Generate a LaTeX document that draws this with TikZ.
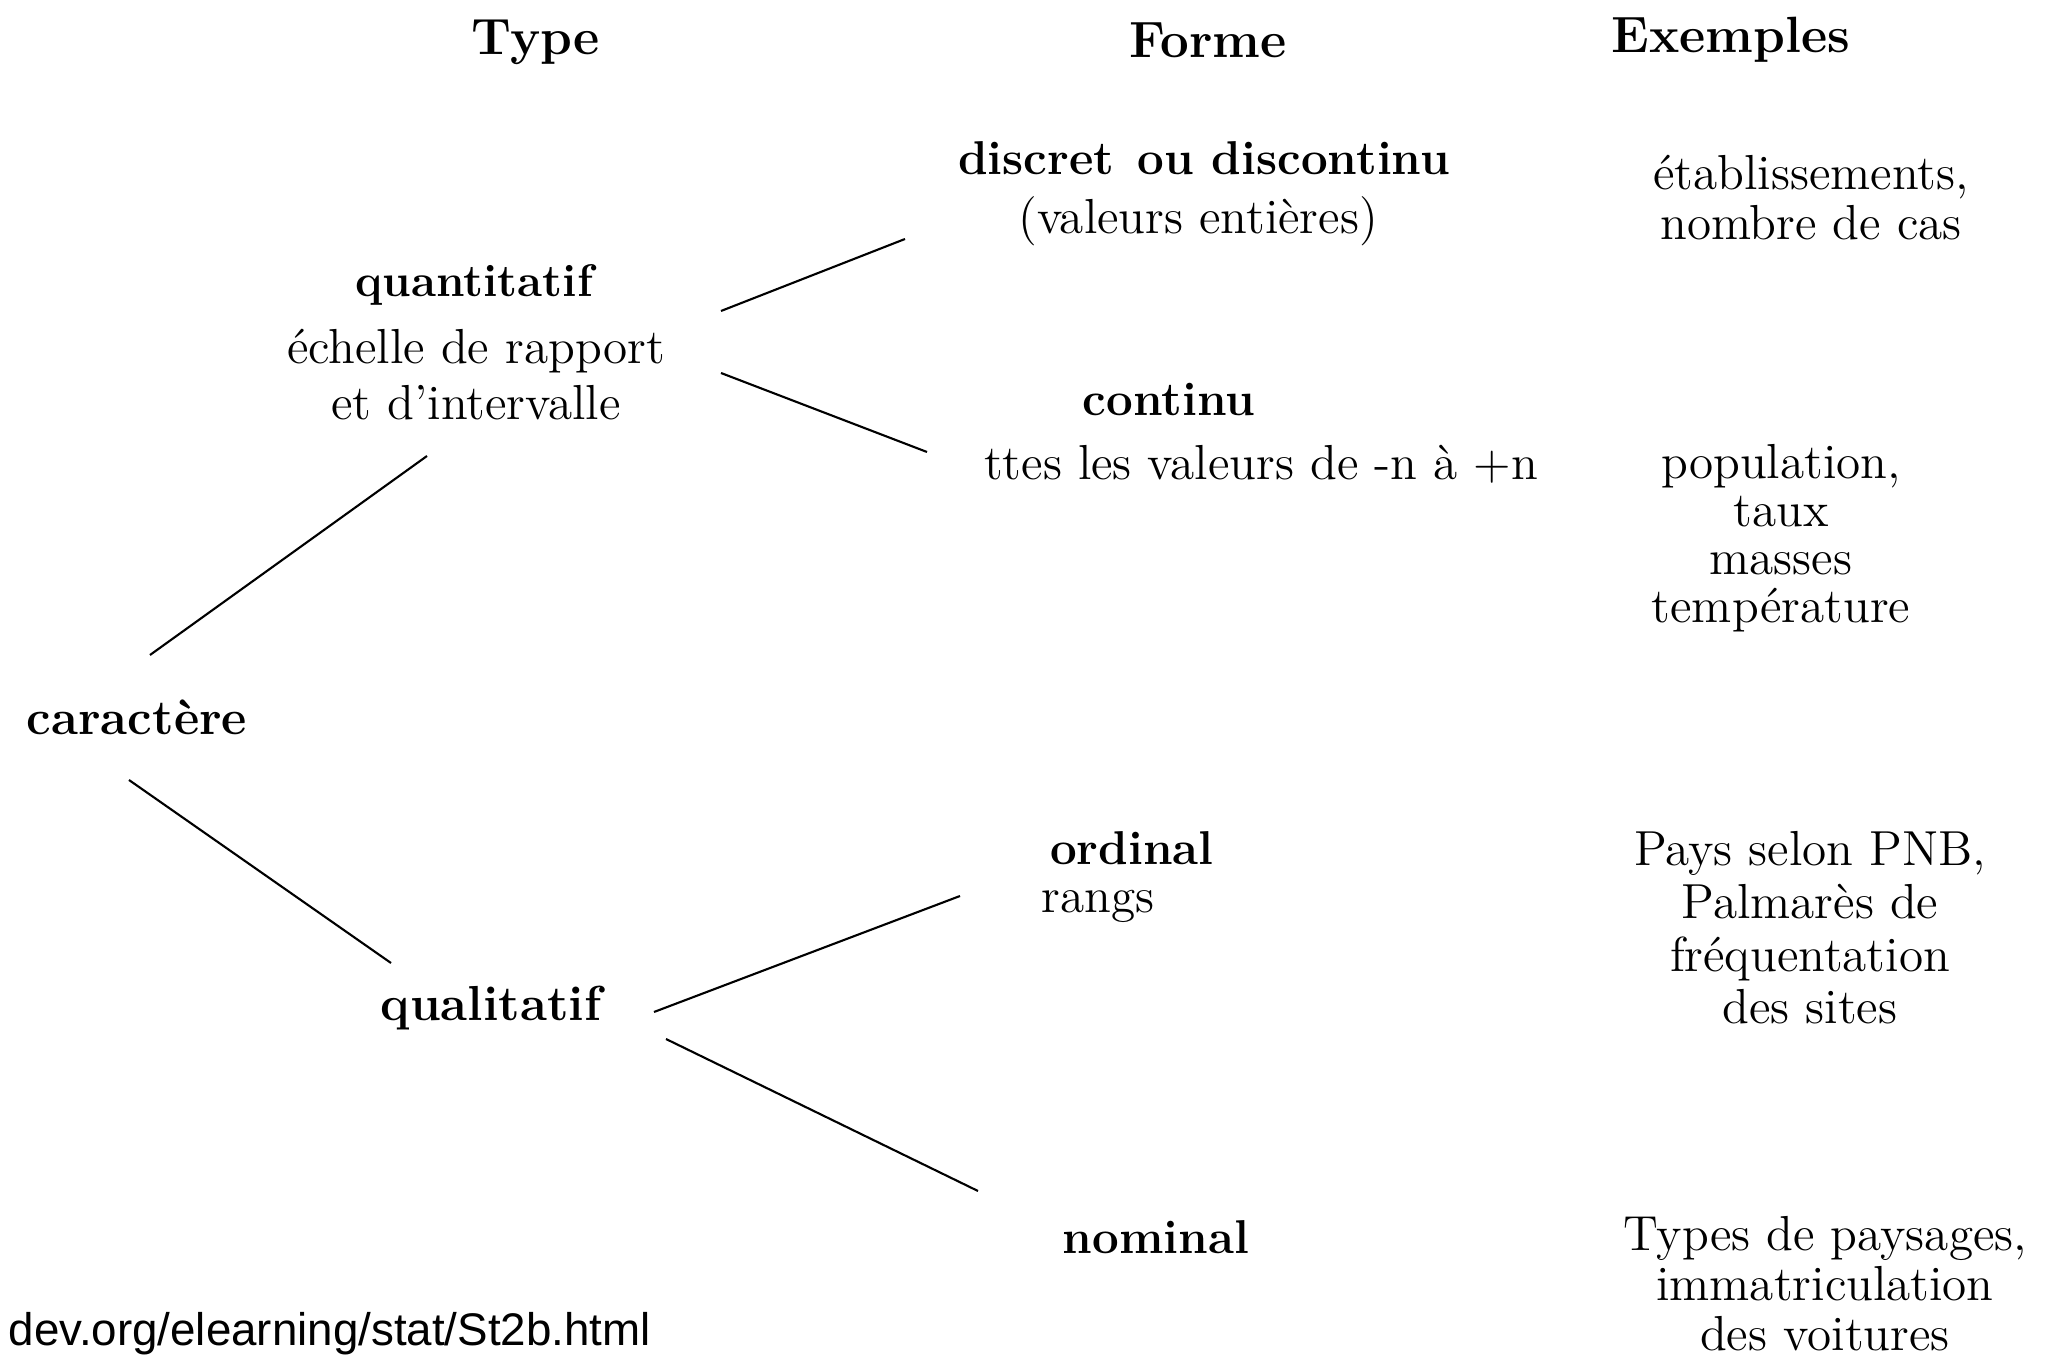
\documentclass[tikz,border=0pt]{standalone}
\usepackage{fontspec}
\newfontfamily\urlfont{Liberation Sans}
\usepackage{tikz}
\usetikzlibrary{positioning}

\begin{document}
\begin{tikzpicture}[
  x=0.01cm, y=-0.01cm,
  hdr/.style={font=\fontsize{14.5}{17}\selectfont\bfseries, inner sep=0pt},
  titre/.style={font=\fontsize{13.5}{16}\selectfont\bfseries, inner sep=0pt},
  texte/.style={font=\fontsize{14}{16}\selectfont, inner sep=0pt},
  exemple/.style={font=\fontsize{14}{14.2}\selectfont, align=center, inner sep=0pt},
  branch/.style={line width=0.6pt, black}
]
\useasboundingbox (0,0) rectangle (2059,1358);

% en-tetes
\node[hdr] (type) at (536,42) {Type};
\node[hdr] (forme) at (1208,40) {Forme};
\node[hdr] (exemples) at (1731,40) {Exemples};

% type
\node[titre, font=\fontsize{14}{16}\selectfont\bfseries] (car) at (137,717) {caractère};
\node[texte, align=center] (quant) at (476,342)
  {\textbf{\fontsize{13}{16}\selectfont quantitatif}\\[3pt]échelle de rapport\\et d'intervalle};
\node[titre, font=\fontsize{14}{16}\selectfont\bfseries] (qual) at (491,1008) {qualitatif};

% forme
\node[titre] (discret) at (1204,158) {discret\hspace{1.5pt} ou discontinu};
\node[texte] (entieres) at (1198,221) {(valeurs entières)};
\node[titre] (continu) at (1169,400) {continu};
\node[texte] (valeurs) at (1261,464) {ttes les valeurs de -n à +n};
\node[titre] (ordinal) at (1132,848) {ordinal};
\node[texte] (rangs) at (1098,906) {rangs};
\node[titre] (nominal) at (1156,1237) {nominal};

% exemples
\node[exemple] (exdiscret) at (1811,198) {établissements,\\nombre de cas};
\node[exemple, font=\fontsize{14}{13.7}\selectfont] (excontinu) at (1781,538)
  {population,\\taux\\masses\\température};
\node[exemple, font=\fontsize{14}{15}\selectfont] (exordinal) at (1810,928)
  {Pays selon PNB,\\Palmarès de\\fréquentation\\des sites};
\node[exemple] (exnominal) at (1825,1284)
  {Types de paysages,\\immatriculation\\des voitures};

% source
\node[anchor=base west, inner sep=0pt, font=\urlfont\fontsize{13}{15}\selectfont] (source) at (8,1346)
  {dev.org/elearning/stat/St2b.html};

% bouts des branches
\coordinate (car-up) at (150,655);
\coordinate (quant-down) at (427,456);
\coordinate (quant-r1) at (721,311);
\coordinate (discret-l) at (905,239);
\coordinate (quant-r2) at (721,373);
\coordinate (continu-l) at (927,452);
\coordinate (car-down) at (129,780);
\coordinate (qual-up) at (391,963);
\coordinate (qual-r1) at (654,1012);
\coordinate (ordinal-l) at (960,896);
\coordinate (qual-r2) at (666,1039);
\coordinate (nominal-l) at (978,1191);

\foreach \s/\t in {car-up/quant-down, quant-r1/discret-l, quant-r2/continu-l,
                   car-down/qual-up, qual-r1/ordinal-l, qual-r2/nominal-l}
  \draw[branch] (\s) -- (\t);

\end{tikzpicture}
\end{document}
